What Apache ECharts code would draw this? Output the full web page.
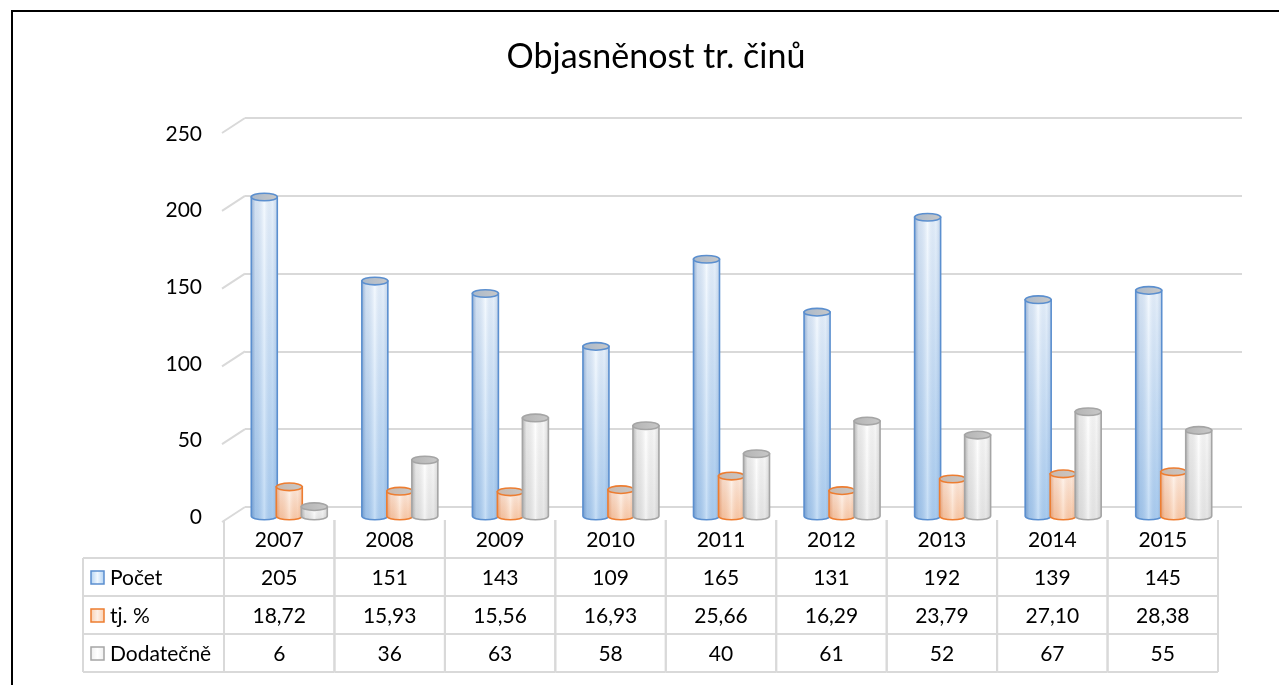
<!DOCTYPE html>
<html><head><meta charset="utf-8">
<script src="https://cdn.jsdelivr.net/npm/echarts@6/dist/echarts.min.js"></script>
<style>html,body{margin:0;padding:0;background:#fff}#c{width:1279px;height:685px}</style>
</head><body><div id="c"></div>
<script>
const titleText = 'Objasněnost tr. činů';
const years = ['2007','2008','2009','2010','2011','2012','2013','2014','2015'];
const seriesNames = ['Počet','tj. %','Dodatečně'];
const pocet = [205,151,143,109,165,131,192,139,145];
const tjPct = [18.72,15.93,15.56,16.93,25.66,16.29,23.79,27.10,28.38];
const dodatecne = [6,36,63,58,40,61,52,67,55];
const yTicks = [0,50,100,150,200,250];

const FONT = 'Lato, "Open Sans", sans-serif';
const GRID_LINE = '#d9d9d9';
const styles = [
  {stroke:'#5b8fcf', top:'#f0f7fe', bottom:'#aed0f2', shade:'40,90,160', cap:'#a9b8ca'},
  {stroke:'#ed7d31', top:'#fdf0e7', bottom:'#f9cdae', shade:'200,90,30', cap:'#cbb8ab'},
  {stroke:'#a5a5a5', top:'#ffffff', bottom:'#ededed', shade:'90,90,90', cap:'#b4b4b4'}
];
const fmtPct = v => v.toFixed(2).replace('.', ',');
const allSeries = [pocet, tjPct, dodatecne];

function cylinderRender(si) {
  const st = styles[si];
  return function (params, api) {
    const cat = api.value(0), v = api.value(1);
    const top = api.coord([cat, v]);
    const base = api.coord([cat, 0]);
    const bw = 26, rx = bw / 2, ry = 3.8;
    const cx = top[0] + (si - 1) * 25;
    const x0 = cx - rx, x1 = cx + rx;
    const yt = top[1], yb = base[1];
    const body = `M ${x0} ${yt} L ${x0} ${yb} A ${rx} ${ry} 0 0 0 ${x1} ${yb} L ${x1} ${yt} Z`;
    const capP = `M ${x0} ${yt} A ${rx} ${ry} 0 1 0 ${x1} ${yt} A ${rx} ${ry} 0 1 0 ${x0} ${yt} Z`;
    const s = st.shade;
    return {type:'group', children:[
      {type:'path', shape:{pathData: body}, style:{
        fill: new echarts.graphic.LinearGradient(0,0,0,1,[{offset:0,color:st.top},{offset:1,color:st.bottom}]),
        stroke:null}},
      {type:'path', shape:{pathData: body}, style:{
        fill: new echarts.graphic.LinearGradient(0,0,1,0,[
          {offset:0,color:`rgba(${s},0.5)`},{offset:0.18,color:`rgba(${s},0.14)`},
          {offset:0.5,color:'rgba(255,255,255,0.3)'},{offset:0.8,color:`rgba(${s},0.05)`},
          {offset:1,color:`rgba(${s},0.25)`}]),
        stroke: st.stroke, lineWidth: 1.6}},
      {type:'path', shape:{pathData: capP}, style:{
        fill: new echarts.graphic.LinearGradient(0,0,1,0,[{offset:0,color:st.cap},{offset:1,color:'#c8c8c8'}]),
        stroke: st.stroke, lineWidth: 1.6}}
    ]};
  };
}

const tableData = [];
years.forEach((y, i) => {
  tableData.push([i, 0, y]);
  tableData.push([i, 1, String(pocet[i])]);
  tableData.push([i, 2, fmtPct(tjPct[i])]);
  tableData.push([i, 3, String(dodatecne[i])]);
});

function tableRender(params, api) {
  const item = tableData[params.dataIndex];
  const c = item[0], r = item[1];
  const p = api.coord([c, r]);
  const sz = api.size([1, 1]);
  const w = sz[0], h = sz[1];
  const xl = p[0] - w / 2, xr = p[0] + w / 2, yt = p[1] - h / 2, yb = p[1] + h / 2;
  const ls = {stroke: GRID_LINE, lineWidth: 2};
  const ch = [
    {type:'line', shape:{x1:xl,y1:yt,x2:xl,y2:yb}, style:ls},
    {type:'line', shape:{x1:xr,y1:yt,x2:xr,y2:yb}, style:ls},
    {type:'line', shape:{x1:xl,y1:yb,x2:xr,y2:yb}, style:ls},
    {type:'text', x:p[0], y:p[1]+1, style:{text: item[2], font:'21px ' + FONT, fill:'#000', align:'center', verticalAlign:'middle'}}
  ];
  if (r > 0) ch.push({type:'line', shape:{x1:xl,y1:yt,x2:xr,y2:yt}, style:ls});
  if (r > 0 && c === 0) {
    const lx = xl - 141;
    const st = styles[r - 1];
    ch.push({type:'line', shape:{x1:lx,y1:yt,x2:xl,y2:yt}, style:ls});
    ch.push({type:'line', shape:{x1:lx,y1:yb,x2:xl,y2:yb}, style:ls});
    ch.push({type:'line', shape:{x1:lx,y1:yt,x2:lx,y2:yb}, style:ls});
    ch.push({type:'rect', shape:{x:lx+8, y:p[1]-6, width:13, height:13}, style:{
      fill: new echarts.graphic.LinearGradient(0,0,1,0,[{offset:0,color:st.bottom},{offset:0.5,color:st.top},{offset:1,color:st.bottom}]),
      stroke: st.stroke, lineWidth: 1.5}});
    ch.push({type:'text', x:lx+27, y:p[1]+1, style:{text: seriesNames[r-1], font:'21px ' + FONT, fill:'#000', align:'left', verticalAlign:'middle'}});
  }
  return {type:'group', children: ch};
}

function diagRender(params, api) {
  const v = api.value(0);
  const p = api.coord([0, v]);
  const left = p[0] - api.size([1, 0])[0] / 2;
  return {type:'line', shape:{x1:left-23, y1:p[1]+15, x2:left, y2:p[1]},
    style:{stroke: GRID_LINE, lineWidth: 2}};
}

const hiddenX = (gi) => ({type:'category', gridIndex:gi, data:years, show:false, boundaryGap:true});
const option = {
  animation: false,
  grid: [
    {left:245, width:997, top:118, height:389},
    {left:224, width:994, top:134, height:383},
    {left:234, width:995, top:127, height:389},
    {left:224, width:994, top:520, height:152}
  ],
  xAxis: [hiddenX(0), hiddenX(1), hiddenX(2), hiddenX(3)],
  yAxis: [
    {type:'value', gridIndex:0, min:0, max:250, interval:50, axisLabel:{show:false}, axisLine:{show:false}, axisTick:{show:false},
      splitLine:{show:true, lineStyle:{color:GRID_LINE, width:2}}},
    {type:'value', gridIndex:1, min:0, max:250, interval:50, axisLine:{show:false}, axisTick:{show:false}, splitLine:{show:false},
      axisLabel:{margin:22, fontSize:21, fontFamily:FONT, color:'#000'}},
    {type:'value', gridIndex:2, min:0, max:250, show:false, splitLine:{show:false}},
    {type:'category', gridIndex:3, data:['r0','r1','r2','r3'], inverse:true, show:false}
  ],
  series: [
    {type:'custom', xAxisIndex:0, yAxisIndex:0, renderItem: diagRender, data: yTicks.map(v => [v]), encode:{y:0}, silent:true},
    ...allSeries.map((arr, si) => ({
      type:'custom', name: seriesNames[si], xAxisIndex:2, yAxisIndex:2,
      renderItem: cylinderRender(si), data: arr.map((v, i) => [i, v]), encode:{x:0, y:1}
    })),
    {type:'custom', xAxisIndex:3, yAxisIndex:3, renderItem: tableRender, data: tableData.map(d => [d[0], d[1]]), encode:{x:0, y:1}, silent:true}
  ],
  graphic: [
    {type:'text', x:656, y:57, style:{text:titleText, font:'34px ' + FONT, fill:'#000', align:'center', verticalAlign:'middle'}},
    {type:'polyline', shape:{points:[[12,690],[12,11],[1290,11]]}, style:{stroke:'#000', lineWidth:2, fill:null}}
  ]
};
const chart = echarts.init(document.getElementById('c'), null, {renderer:'canvas'});
chart.setOption(option);
</script></body></html>
